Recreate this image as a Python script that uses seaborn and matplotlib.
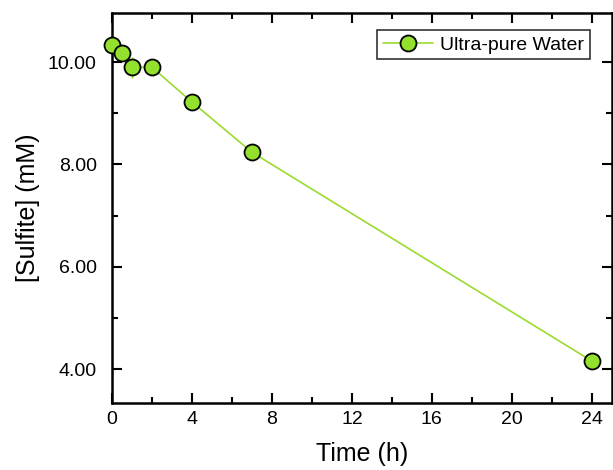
import matplotlib
matplotlib.use("Agg")
import matplotlib.pyplot as plt
import seaborn as sns
import pandas as pd
import numpy as np
from matplotlib.ticker import MultipleLocator, FormatStrFormatter

time_h = [0, 0.5, 1, 2, 4, 7, 24]
sulfite_mM = [10.34, 10.18, 9.90, 9.90, 9.22, 8.24, 4.16]
sulfite_err = [0.05, 0.05, 0.20, 0.05, 0.05, 0.05, 0.05]
series_name = "Ultra-pure Water"

df = pd.DataFrame({"Time (h)": time_h, "[Sulfite] (mM)": sulfite_mM, "series": series_name})

sns.set_style("ticks")
plt.rcParams["font.family"] = ["Liberation Sans", "DejaVu Sans"]
plt.rcParams["text.color"] = "black"
plt.rcParams["axes.labelcolor"] = "black"
plt.rcParams["xtick.color"] = "black"
plt.rcParams["ytick.color"] = "black"

fig = plt.figure(figsize=(6.13, 4.70), dpi=100)
ax = fig.add_axes([0.1827, 0.1426, 0.8153, 0.8297])

ax.errorbar(time_h, sulfite_mM, yerr=sulfite_err, fmt="none", ecolor="#8FD400", elinewidth=1, zorder=2)
sns.lineplot(data=df, x="Time (h)", y="[Sulfite] (mM)", hue="series", palette=["#9ADB2E"],
             marker="o", markersize=11.5, markerfacecolor="#93E02E", markeredgecolor="black",
             markeredgewidth=1.3, linewidth=1.2, ax=ax, zorder=3, clip_on=False)

ax.set_xlim(0, 25)
ax.set_ylim(3.34, 10.96)
ax.xaxis.set_major_locator(MultipleLocator(4))
ax.xaxis.set_minor_locator(MultipleLocator(2))
ax.yaxis.set_major_locator(MultipleLocator(2))
ax.yaxis.set_minor_locator(MultipleLocator(1))
ax.yaxis.set_major_formatter(FormatStrFormatter("%.2f"))
ax.tick_params(which="both", direction="in", top=True, right=True, width=1.5, labelsize=14,
               color="black", labelcolor="black")
ax.tick_params(axis="x", pad=6)
ax.tick_params(axis="y", pad=11)
ax.tick_params(which="major", length=7)
ax.tick_params(which="minor", length=4)
for s in ax.spines.values():
    s.set_linewidth(1.8)
    s.set_color("black")
    s.set_visible(True)

ax.set_xlabel("Time (h)", fontsize=18, labelpad=10, color="black")
ax.set_ylabel("[Sulfite] (mM)", fontsize=18, labelpad=6, color="black")

leg = ax.legend(loc="upper right", bbox_to_anchor=(0.956, 0.956), fontsize=14, frameon=True,
                fancybox=False, edgecolor="black", handlelength=2.6, borderpad=0.3,
                handletextpad=0.35, borderaxespad=0)
leg.get_frame().set_linewidth(1.2)
for t in leg.get_texts():
    t.set_color("black")

fig.savefig("out.png", dpi=100)
